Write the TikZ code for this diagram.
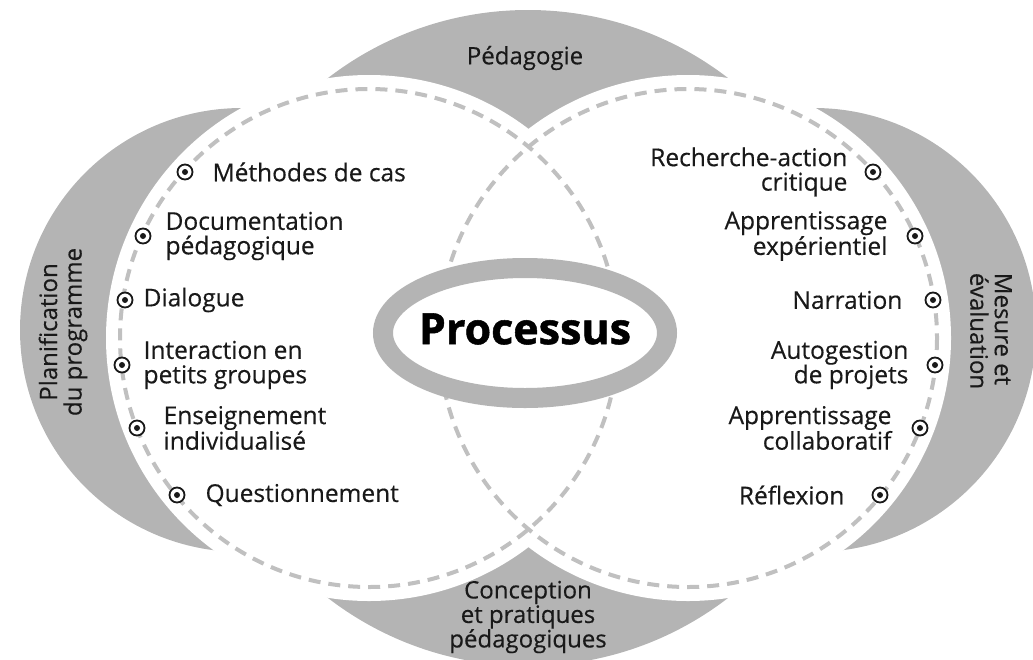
\documentclass[tikz,border=0pt]{standalone}
\usepackage{fontspec}
\setmainfont{Open Sans}[FakeBold=0.35]
\newfontfamily\grasfont{Open Sans}[FakeBold=1.2]
\usetikzlibrary{positioning}

\definecolor{gris}{RGB}{180,180,180}
\definecolor{grispointille}{RGB}{192,192,192}
\definecolor{texte}{RGB}{25,25,25}

\tikzset{
  puce/.style={circle, draw=texte, line width=1.8pt, minimum size=15pt, inner sep=0pt, fill=white,
    path picture={\fill[texte] (path picture bounding box.center) circle (3pt);}},
  gauche/.style={font=\fontsize{24.5}{24.5}\selectfont, text=texte, align=left, inner sep=0pt},
  droite/.style={font=\fontsize{24.5}{24.5}\selectfont, text=texte, align=right, inner sep=0pt},
  zone/.style={font=\fontsize{24}{24.5}\selectfont, text=texte, align=center, inner sep=0pt},
  cercle/.style={draw=grispointille, line width=4pt, dash pattern=on 12pt off 8pt},
  anneau/.style={draw=gris, line width=20pt, fill=white},
}

\begin{document}
\begin{tikzpicture}[x=1pt, y=-1pt]
\useasboundingbox (0,0) rectangle (1033,659);

% Zones grises
\fill[gris] (528,338) circle (328);
\fill[gris] (242,330) circle (222);
\fill[gris] (814,330) circle (222);

% Disques blancs
\fill[white] (369,338) circle (263);
\fill[white] (688,338) circle (263);

% Cercles en pointilles
\draw[cercle] (369,338) circle (249);
\draw[cercle] (688,338) circle (249);

% Processus
\draw[anneau] (525,333) ellipse [x radius=142, y radius=65];
\node[font=\fontsize{43}{43}\grasfont\bfseries, text=black] (proc) at (525,329) {Processus};

% Titres des zones
\node[zone] (ped) at (525,58) {Pédagogie};
\node[zone] (conc) at (528,617) {Conception\\et pratiques\\pédagogiques};
\node[zone, rotate=90] (plan) at (63,332) {Planification\\du programme};
\node[zone, rotate=-90, align=left] (mes) at (991,331) {Mesure et\\évaluation};

% Cote gauche
\node[puce] (g1) at (185,172) {};
\node[gauche, right=19pt of g1] (tg1) {Méthodes de cas};
\node[puce] (g2) at (143,236) {};
\node[gauche, right=14pt of g2] (tg2) {Documentation\\pédagogique};
\node[puce] (g3) at (125,300) {};
\node[gauche, right=10pt of g3] (tg3) {Dialogue};
\node[puce] (g4) at (122,365) {};
\node[gauche, right=13pt of g4] (tg4) {Interaction en\\petits groupes};
\node[puce] (g5) at (137,428) {};
\node[gauche, right=18pt of g5] (tg5) {Enseignement\\individualisé};
\node[puce] (g6) at (177,495) {};
\node[gauche, right=20pt of g6] (tg6) {Questionnement};

% Cote droit
\node[puce] (d1) at (873,172) {};
\node[droite, left=17pt of d1] (td1) {Recherche-action\\critique};
\node[puce] (d2) at (915,236) {};
\node[droite, left=19pt of d2] (td2) {Apprentissage\\expérientiel};
\node[puce] (d3) at (933,300) {};
\node[droite, left=22pt of d3] (td3) {Narration};
\node[puce] (d4) at (935,365) {};
\node[droite, left=18pt of d4] (td4) {Autogestion\\de projets};
\node[puce] (d5) at (920,428) {};
\node[droite, left=20pt of d5] (td5) {Apprentissage\\collaboratif};
\node[puce] (d6) at (880,495) {};
\node[droite, left=27pt of d6] (td6) {Réflexion};
\end{tikzpicture}
\end{document}
